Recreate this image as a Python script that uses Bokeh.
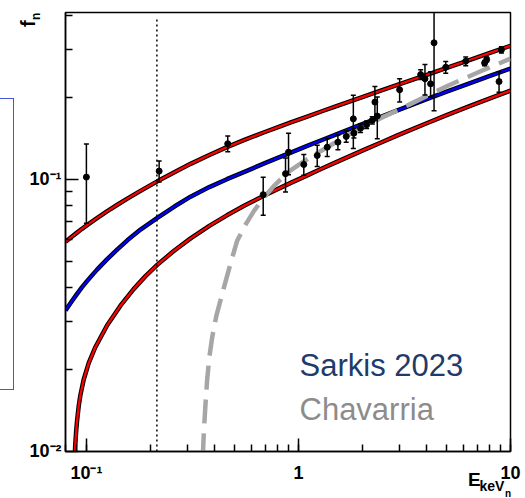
import math
import numpy as np
from bokeh.plotting import figure
from bokeh.layouts import column
from bokeh.models import (Label, CustomJSTickFormatter, Range1d, ColumnDataSource, InlineStyleSheet,
                          FixedTicker, Div)
from bokeh.embed import file_html
from bokeh.resources import INLINE

# ---------------- data ----------------
upper_x = [0.0797, 0.085, 0.09, 0.095, 0.1, 0.11, 0.125, 0.14, 0.156, 0.18, 0.216, 0.26, 0.31, 0.38, 0.46,
           0.56, 0.69, 0.82, 0.92, 1.1, 1.3, 1.5, 2.0, 2.5, 2.93, 4.0, 5.0, 6.5, 8.0, 10.0]
upper_y = [0.059, 0.0614, 0.0636, 0.0657, 0.0676, 0.0713, 0.0763, 0.0807, 0.0850, 0.0908, 0.0984, 0.1063,
           0.1141, 0.1230, 0.1315, 0.140, 0.1491, 0.1568, 0.162, 0.1703, 0.1785, 0.1858, 0.2008, 0.2133,
           0.2226, 0.2421, 0.2571, 0.276, 0.2919, 0.31]

mid_x = [0.0797, 0.085, 0.09, 0.095, 0.1, 0.106, 0.112, 0.125, 0.14, 0.156, 0.18, 0.216, 0.26, 0.31, 0.38,
         0.46, 0.56, 0.69, 0.82, 0.92, 1.1, 1.3, 1.5, 2.0, 2.5, 2.93, 4.0, 5.0, 6.5, 8.0, 10.0]
mid_y = [0.033, 0.0355, 0.0378, 0.0400, 0.0420, 0.0443, 0.0465, 0.0508, 0.0553, 0.0597, 0.0654, 0.0722,
         0.0795, 0.0864, 0.0937, 0.1002, 0.1069, 0.1145, 0.121, 0.1255, 0.1328, 0.1399, 0.1462, 0.1599,
         0.1711, 0.1795, 0.1971, 0.2103, 0.2266, 0.2402, 0.2557]

lower_x = [0.0878, 0.0885, 0.0895, 0.0904, 0.092, 0.0937, 0.097, 0.1025, 0.11, 0.1253, 0.145, 0.167, 0.19,
           0.2157, 0.26, 0.31, 0.38, 0.46, 0.56, 0.69, 0.82, 0.92, 1.1, 1.3, 1.5, 2.0, 2.5, 2.93, 4.0, 5.0,
           6.5, 8.0, 10.0]
lower_y = [0.0085, 0.0104, 0.0119, 0.0130, 0.0147, 0.0161, 0.0183, 0.0211, 0.0241, 0.0291, 0.0344, 0.0395,
           0.0441, 0.0485, 0.0548, 0.0607, 0.0675, 0.0738, 0.0803, 0.0873, 0.0931, 0.0971, 0.1035, 0.1099,
           0.1155, 0.1276, 0.1376, 0.1452, 0.1606, 0.1723, 0.1867, 0.1987, 0.2122]

chav_x = [0.354, 0.358, 0.365, 0.371, 0.38, 0.392, 0.41, 0.445, 0.478, 0.514, 0.56, 0.616, 0.69, 0.765,
          0.84, 0.918, 1.06, 1.27, 1.5, 1.75, 2.0, 2.44, 3.0, 3.5, 5.0, 7.23, 10.0]
chav_y = [0.0095, 0.0118, 0.0152, 0.0183, 0.0222, 0.0263, 0.0315, 0.0400, 0.0490, 0.0595, 0.0678, 0.0765,
          0.0862, 0.0945, 0.1015, 0.108, 0.1165, 0.127, 0.137, 0.147, 0.155, 0.168, 0.181, 0.192, 0.220,
          0.250, 0.278]

data_x = [0.1, 0.2203, 0.464, 0.682, 0.869, 0.898, 1.06, 1.226, 1.367, 1.535, 1.68, 1.826, 1.815, 1.963,
          2.096, 2.23, 2.294, 2.354, 3.0, 3.77, 3.95, 4.20, 4.36, 4.95, 6.15, 7.55, 7.72, 9.06, 8.83]
data_y = [0.102, 0.1073, 0.1353, 0.0879, 0.105, 0.126, 0.1135, 0.1225, 0.1314, 0.1371, 0.1439, 0.148, 0.167,
          0.1544, 0.159, 0.165, 0.1925, 0.171, 0.2137, 0.243, 0.2345, 0.2247, 0.318, 0.2585, 0.272, 0.268,
          0.276, 0.2996, 0.229]
data_err = [0.033, 0.0095, 0.009, 0.014, 0.015, 0.022, 0.010, 0.011, 0.010, 0.0085, 0.007, 0.006, 0.037,
            0.0055, 0.005, 0.005, 0.027, 0.030, 0.021, 0.010, 0.030, 0.024, 0.139, 0.013, 0.010, 0.006, 0.006,
            0.008, 0.020]

threshold_x = 0.215
threshold_y = [0.01, 0.387]

x_tick_values = [0.1, 1.0, 10.0]
x_tick_labels = ["10\u207b\u00b9", "1", "10"]
y_tick_values = [0.01, 0.1]
y_tick_labels = ["10\u207b\u00b2", "10\u207b\u00b9"]
y_minor_values = [0.02, 0.03, 0.04, 0.05, 0.06, 0.07, 0.08, 0.09, 0.2, 0.3, 0.4]

legend_texts = ["Sarkis 2023", "Chavarria"]
legend_colors = ["#1f3b6a", "#8c8c8c"]

y_title = ("f", "n")
x_title = ("E", "keV", "n")

# ---------------- geometry ----------------
W, H = 525, 498
FL, FR, FT, FB = 65, 510, 12, 451          # frame edges in pixels
X0, X1 = 0.0797, 10.0
Y0, Y1 = 0.00999, 0.411


def px2x(px):
    a, b = math.log10(X0), math.log10(X1)
    return 10 ** (a + (px - FL) / (FR - FL) * (b - a))


def py2y(py):
    a, b = math.log10(Y0), math.log10(Y1)
    return 10 ** (a + (FB - py) / (FB - FT) * (b - a))


FONT = "Liberation Sans"
p = figure(width=W, height=H, x_axis_type="log", y_axis_type="log",
           x_range=Range1d(X0, X1), y_range=Range1d(Y0, Y1),
           output_backend="svg", toolbar_location=None, title=None,
           min_border_left=FL, min_border_right=W - FR, min_border_top=FT, min_border_bottom=H - FB)
p.grid.visible = False
p.outline_line_color = "black"
p.outline_line_width = 1.5
p.background_fill_color = "white"
p.border_fill_color = "white"

for ax in (p.xaxis[0], p.yaxis[0]):
    ax.axis_line_color = "black"
    ax.axis_line_width = 1.5
    ax.major_tick_in = 13
    ax.major_tick_out = 0
    ax.minor_tick_in = 7
    ax.minor_tick_out = 0
    ax.major_tick_line_width = 1.5
    ax.minor_tick_line_width = 1.5
    ax.major_tick_line_color = "black"
    ax.minor_tick_line_color = "black"
    ax.major_label_text_font = FONT
    ax.major_label_text_font_style = "bold"
    ax.major_label_text_font_size = "18px"
    ax.major_label_text_color = "black"

p.yaxis[0].ticker = FixedTicker(ticks=y_tick_values, minor_ticks=y_minor_values)

fmt_code = """
for (let i = 0; i < vals.length; i++) {
  if (Math.abs(Math.log10(tick) - Math.log10(vals[i])) < 1e-6) return labs[i];
}
return "";
"""
p.xaxis[0].formatter = CustomJSTickFormatter(args=dict(vals=x_tick_values, labs=x_tick_labels), code=fmt_code)
p.yaxis[0].formatter = CustomJSTickFormatter(args=dict(vals=y_tick_values, labs=y_tick_labels), code=fmt_code)
p.xaxis[0].major_label_standoff = 11
p.yaxis[0].major_label_standoff = 4

# model curves: black underlay + coloured line
for xs, ys, col in ((upper_x, upper_y, "#ff0000"), (lower_x, lower_y, "#ff0000"), (mid_x, mid_y, "#0000ff")):
    p.line(xs, ys, line_color="black", line_width=4.5, line_join="round")
    p.line(xs, ys, line_color=col, line_width=2.3, line_join="round")

# Chavarria dashed
p.line(chav_x, chav_y, line_color="#a6a6a6", line_width=4.5, line_dash="24 10")

# threshold dotted line
p.line([threshold_x, threshold_x], threshold_y, line_color="black", line_width=1.5, line_dash="2 3")

# data with error bars
dx = np.array(data_x)
dy = np.array(data_y)
de = np.array(data_err)
src = ColumnDataSource(dict(x=dx, y=dy, lo=dy - de, hi=dy + de))
p.segment(x0="x", y0="lo", x1="x", y1="hi", source=src, line_color="black", line_width=1.5)
p.scatter(x="x", y="lo", source=src, marker="dash", size=5, line_color="black", line_width=1.5)
p.scatter(x="x", y="hi", source=src, marker="dash", size=5, line_color="black", line_width=1.5)
p.scatter(x="x", y="y", source=src, marker="circle", size=6, fill_color="black", line_color="black")

# legend-like texts (inside the frame)
p.add_layout(Label(x=px2x(299), y=py2y(365), text=legend_texts[0], text_font=FONT, text_font_size="31px",
                   text_color=legend_colors[0], text_baseline="alphabetic"))
p.add_layout(Label(x=px2x(299), y=py2y(409), text=legend_texts[1], text_font=FONT, text_font_size="31px",
                   text_color=legend_colors[1], text_baseline="alphabetic"))

# clipped blue box at far left (decoration outside the canvas frame)
p.stylesheets = [InlineStyleSheet(css="""
:host { position: relative; }
:host::before { content: ""; position: absolute; z-index: 5; box-sizing: border-box;
  left: -6px; top: 98px; width: 20px; height: 292px; border: 1.5px solid #4455e6; pointer-events: none; }
""")]


# ---------------- axis titles outside the frame (HTML overlay) ----------------
def span(text, left, baseline, size, rotate=False):
    top = baseline - 0.3465 * size
    if rotate:
        # rotated CCW about (left, top); baseline ends up at x = left + 0.3465*size
        left_css = left - 0.3465 * size
        return (f'<span style="position:absolute; left:{left_css:.2f}px; top:{baseline:.2f}px; '
                f'font: bold {size}px \'{FONT}\'; line-height:0; white-space:pre; '
                f'transform-origin:0 0; transform:rotate(-90deg);">{text}</span>')
    return (f'<span style="position:absolute; left:{left:.2f}px; top:{top:.2f}px; '
            f'font: bold {size}px \'{FONT}\'; line-height:0; white-space:pre;">{text}</span>')


# rotated y title: for rotated spans "left" = baseline x, "baseline" = text start y
overlay_html = "".join([
    span(y_title[0], 35, 26.5, 20, rotate=True),
    span(y_title[1], 40, 19.5, 12, rotate=True),
    span(x_title[0], 468, 487, 19),
    span(x_title[1], 479.5, 491, 14),
    span(x_title[2], 505, 497, 10),
])
overlay = Div(text=overlay_html, width=W, height=H, margin=0,
              styles={"position": "absolute", "left": "0px", "top": "0px", "z-index": "10",
                      "pointer-events": "none", "overflow": "hidden", "color": "black"})

root = column(p, overlay, spacing=0, margin=0)
open("out.html", "w").write(file_html(root, INLINE))
